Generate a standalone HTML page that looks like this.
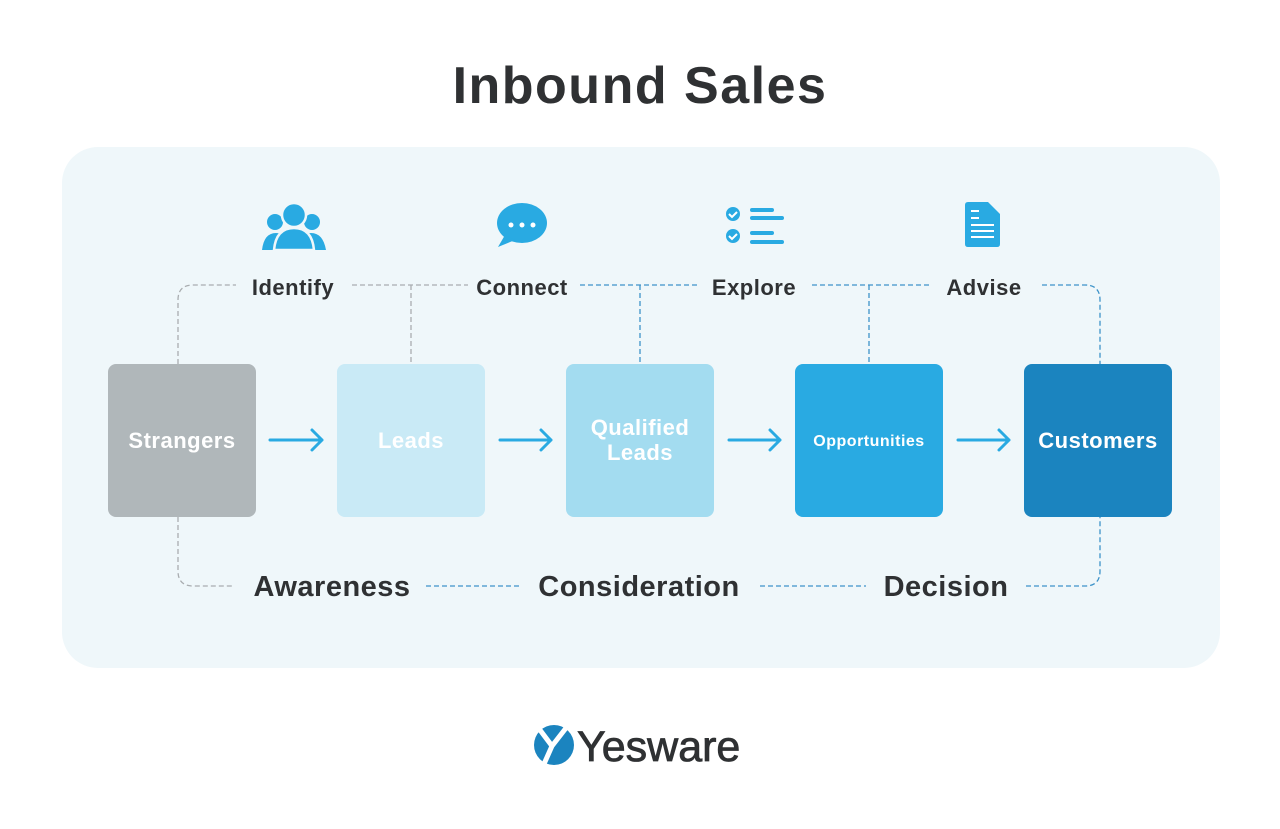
<!DOCTYPE html>
<html><head><meta charset="utf-8"><style>
html,body{margin:0;padding:0;background:#fff;}
svg{display:block;}
text{font-family:"Liberation Sans",sans-serif;font-weight:bold;}
</style></head><body>
<svg width="1280" height="829" viewBox="0 0 1280 829" xmlns="http://www.w3.org/2000/svg">
<rect width="1280" height="829" fill="#fff"/>
<text x="640" y="103" text-anchor="middle" font-size="52" letter-spacing="1.5" fill="#2f3133">Inbound Sales</text>
<rect x="62" y="147" width="1158" height="521" rx="36" fill="#eff7fa"/>
<g fill="none" stroke-width="1.3" stroke-dasharray="5,3">
<path d="M178 364 V300 Q178 285 193 285 H236" stroke="#a9adb0"/>
<path d="M352 285 H468 M411 285 V364" stroke="#a9adb0"/>
<path d="M580 285 H697 M640 285 V364" stroke="#3d93c9"/>
<path d="M812 285 H930 M869 285 V364" stroke="#3d93c9"/>
<path d="M1042 285 H1085 Q1100 285 1100 300 V364" stroke="#3d93c9"/>
<path d="M178 517 V571 Q178 586 193 586 H232" stroke="#a9adb0"/>
<path d="M426 586 H522 M760 586 H866" stroke="#3d93c9"/>
<path d="M1026 586 H1085 Q1100 586 1100 571 V517" stroke="#3d93c9"/>
</g>
<g font-size="22" fill="#2f3133" text-anchor="middle" letter-spacing="0.5">
<text x="293" y="295">Identify</text>
<text x="522" y="295">Connect</text>
<text x="754" y="295">Explore</text>
<text x="984" y="295">Advise</text>
</g>
<g font-size="29" fill="#2f3133" text-anchor="middle" letter-spacing="0.5">
<text x="332" y="596">Awareness</text>
<text x="639" y="596">Consideration</text>
<text x="946" y="596">Decision</text>
</g>
<rect x="108" y="364" width="148" height="153" rx="8" fill="#b0b7ba"/>
<rect x="337" y="364" width="148" height="153" rx="8" fill="#c9eaf6"/>
<rect x="566" y="364" width="148" height="153" rx="8" fill="#a3dcf0"/>
<rect x="795" y="364" width="148" height="153" rx="8" fill="#29aae2"/>
<rect x="1024" y="364" width="148" height="153" rx="8" fill="#1b84bf"/>
<g fill="#fff" text-anchor="middle" letter-spacing="0.5">
<text x="182" y="448" font-size="22">Strangers</text>
<text x="411" y="448" font-size="22">Leads</text>
<text x="640" y="435" font-size="22">Qualified</text>
<text x="640" y="460" font-size="22">Leads</text>
<text x="869" y="446" font-size="16">Opportunities</text>
<text x="1098" y="448" font-size="22">Customers</text>
</g>
<g stroke="#29aae2" stroke-width="3" fill="none" stroke-linecap="round" stroke-linejoin="round">
<path d="M270 440 H322 M312 430 L322 440 L312 450"/>
<path d="M500 440 H551 M541 430 L551 440 L541 450"/>
<path d="M729 440 H780 M770 430 L780 440 L770 450"/>
<path d="M958 440 H1009 M999 430 L1009 440 L999 450"/>
</g>
<g fill="#29aae2">
<circle cx="275" cy="222" r="8"/><circle cx="312" cy="222" r="8"/>
<path d="M262 250 Q264 233 276 233 Q288 233 290 250Z"/>
<path d="M297 250 Q299 233 311 233 Q323 233 326 250Z"/>
<circle cx="294" cy="215" r="12" stroke="#eff7fa" stroke-width="2.5"/>
<path d="M274 250 Q276 228 294 228 Q312 228 314 250Z" stroke="#eff7fa" stroke-width="2.5"/>
<ellipse cx="522" cy="223" rx="25" ry="20"/>
<path d="M505 235 L498 247 L515 240Z"/>
<circle cx="733" cy="214" r="7"/><circle cx="733" cy="236" r="7"/>
<rect x="750" y="208" width="24" height="4" rx="2"/><rect x="750" y="216" width="34" height="4" rx="2"/>
<rect x="750" y="231" width="24" height="4" rx="2"/><rect x="750" y="240" width="34" height="4" rx="2"/>
<path d="M968 202 H988 L1000 214 V244 Q1000 247 997 247 H968 Q965 247 965 244 V205 Q965 202 968 202Z"/>
</g>
<g stroke="#fff" stroke-width="2" fill="none">
<path d="M729 214 l3 3 l5 -5 M729 236 l3 3 l5 -5"/>
<path d="M971 211 h8 M971 218 h8 M971 225 h23 M971 231 h23 M971 237 h23"/>
</g>
<circle cx="511" cy="225" r="2.5" fill="#fff"/><circle cx="522" cy="225" r="2.5" fill="#fff"/><circle cx="533" cy="225" r="2.5" fill="#fff"/>
<circle cx="554" cy="745" r="20" fill="#1b84bf"/>
<path d="M540 730 L552 746 L544 764 M566 728 L552 746" stroke="#fff" stroke-width="5" fill="none"/>
<text x="577" y="761" font-size="43" fill="#2f3133" stroke="#2f3133" stroke-width="0.8" style="font-weight:normal">Yesware</text>
</svg>
</body></html>
